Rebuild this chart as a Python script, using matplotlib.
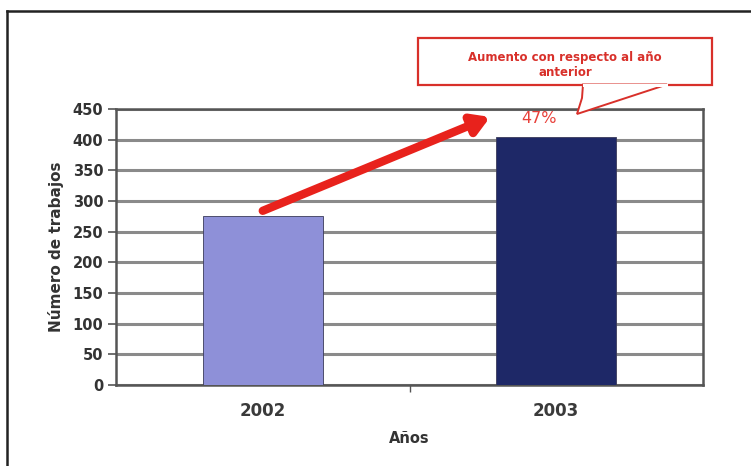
import matplotlib
matplotlib.use("Agg")
import matplotlib.pyplot as plt
from matplotlib.lines import Line2D
from matplotlib.patches import Polygon, Rectangle

years = ["2002", "2003"]
trabajos = [275, 405]
bar_colors = ["#8e90d8", "#1e2867"]
yticks = [0, 50, 100, 150, 200, 250, 300, 350, 400, 450]
increase_label = "47%"
callout_text = "Aumento con respecto al año\nanterior"

fig = plt.figure(figsize=(7.51, 4.66), dpi=100)
fig.patch.set_facecolor("white")

# outer frame (top and left edges)
fig.add_artist(Line2D([7/751, 7/751], [0, 1 - 11/466], color="#222222", lw=1.8, transform=fig.transFigure))
fig.add_artist(Line2D([7/751, 1], [1 - 11/466, 1 - 11/466], color="#222222", lw=1.8, transform=fig.transFigure))

ax = fig.add_axes([116/751, (466-385)/466, (703-116)/751, (385-109)/466])
ax.set_facecolor("white")

x = list(range(len(years)))
ax.bar(x, trabajos, width=0.41, color=bar_colors, edgecolor="#3a3a5a", linewidth=0.6, zorder=3)

ax.set_xlim(-0.5, 1.5)
ax.set_ylim(0, 450)
ax.set_yticks(yticks)
ax.set_yticklabels([str(v) for v in yticks], fontsize=10.5, fontweight="bold", color="#333333")
ax.set_xticks(x)
ax.set_xticklabels(years, fontsize=12, fontweight="bold", color="#3a3a3a")
ax.set_xticks([0.5], minor=True)
ax.tick_params(axis="x", which="major", length=0, pad=12)
ax.tick_params(axis="x", which="minor", length=5, width=1, color="#555555", direction="out")
ax.tick_params(axis="y", length=6, width=1.2, color="#555555", direction="out", pad=3)

ax.yaxis.grid(True, color="#8a8a8a", linewidth=2.2, zorder=0)
for s in ["left", "right", "top", "bottom"]:
    ax.spines[s].set_color("#555555")
    ax.spines[s].set_linewidth(1.8)

ax.set_ylabel("Número de trabajos", fontsize=11, fontweight="bold", color="#333333", labelpad=6)
ax.set_xlabel("Años", fontsize=10.5, fontweight="bold", color="#333333", labelpad=8)

# growth arrow from 2002 bar top towards 2003
ax.annotate("", xy=(0.775, 437), xytext=(0.0, trabajos[0] + 9),
            arrowprops=dict(arrowstyle="-|>,head_length=1.0,head_width=0.6",
                            color="#e8221c", lw=6, shrinkA=0, shrinkB=0),
            zorder=6, annotation_clip=False)

# percentage label
ax.text(1.0 - 0.06, 435, increase_label, ha="center", va="center", fontsize=11.5,
        color="#e8403a", zorder=6, clip_on=False)

# callout box with pointer
box = Rectangle((418/751, 1 - 85/466), (712-418)/751, (85-38)/466, transform=fig.transFigure,
                facecolor="white", edgecolor="#d8302a", linewidth=1.6, zorder=7)
fig.add_artist(box)
pointer = Polygon([(583/751, 1 - 84.5/466), (667/751, 1 - 84.5/466), (577/751, 1 - 114/466),
                   (582/751, 1 - 98/466)], closed=True, transform=fig.transFigure,
                  facecolor="white", edgecolor="#d8302a", linewidth=1.4, zorder=7)
fig.add_artist(pointer)
fig.add_artist(Line2D([584/751, 666/751], [1 - 84.5/466, 1 - 84.5/466], color="white", lw=2.2,
                      transform=fig.transFigure, zorder=8))
fig.text(565/751, 1 - 65/466, callout_text, ha="center", va="center", fontsize=8.5,
         fontweight="bold", color="#d8302a", linespacing=1.25, zorder=9)

fig.savefig("out.png", dpi=100, facecolor="white")
